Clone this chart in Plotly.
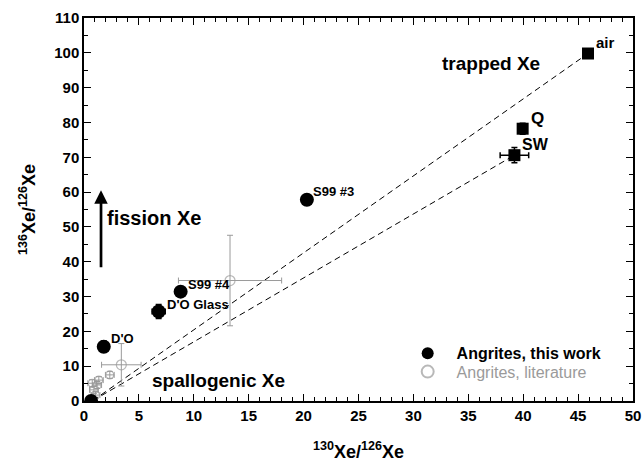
import plotly.graph_objects as go

# Angrites, this work (130Xe/126Xe, 136Xe/126Xe)
tw_names = ["D'O", "D'O Glass", "S99 #4", "S99 #3"]
tw_x = [1.8, 6.8, 8.8, 20.3, 0.65]
tw_y = [15.6, 25.7, 31.4, 57.8, 0.0]
tw_xerr = [0.3, 0.6, 0.3, 0.3, 0.0]
tw_yerr = [1.6, 2.0, 0.8, 0.8, 0.0]

# Angrites, literature
lit_x = [13.3, 3.4, 2.35, 1.35, 0.75, 1.2, 0.9, 1.05]
lit_y = [34.6, 10.4, 7.5, 6.0, 5.1, 4.6, 3.2, 1.7]
lit_xerr = [4.7, 1.8, 0.4, 0.4, 0.4, 0.4, 0.4, 0.4]
lit_yerr = [13.0, 6.1, 1.0, 1.0, 1.0, 1.0, 1.0, 1.0]

# Trapped Xe end-members
trap_names = ["air", "Q", "SW"]
trap_x = [45.9, 39.95, 39.2]
trap_y = [99.8, 78.2, 70.6]
trap_xerr = [0.0, 0.0, 1.3]
trap_yerr = [0.0, 1.6, 2.2]

# Spallogenic starting point of the mixing lines
spall_x = 0.8
spall_y = 0.1

FONT = "Liberation Sans, Arial, Helvetica, sans-serif"
GRAY = "#9a9a9a"
PAD = "\u00a0\u00a0"

fig = go.Figure()

# mixing lines spallogenic -> air and spallogenic -> SW
for ex, ey in [(trap_x[0], trap_y[0]), (trap_x[2], trap_y[2])]:
    fig.add_trace(go.Scatter(
        x=[spall_x, ex], y=[spall_y, ey], mode="lines",
        line=dict(color="black", width=1, dash="6px,4px"),
        showlegend=False, hoverinfo="skip"))

fig.add_trace(go.Scatter(
    x=lit_x, y=lit_y, mode="markers", legend="legend2",
    name=PAD + "<span style='color:#9a9a9a'>Angrites, literature</span>",
    marker=dict(symbol="circle-open", size=[10, 10, 8, 8, 8, 8, 8, 8],
                color=GRAY, line=dict(width=1.2, color=GRAY)),
    error_x=dict(type="data", array=lit_xerr, color=GRAY, thickness=1, width=3),
    error_y=dict(type="data", array=lit_yerr, color=GRAY, thickness=1, width=3)))

fig.add_trace(go.Scatter(
    x=trap_x, y=trap_y, mode="markers", showlegend=False,
    marker=dict(symbol="square", size=12, color="black"),
    error_x=dict(type="data", array=trap_xerr, color="black", thickness=1.5, width=3),
    error_y=dict(type="data", array=trap_yerr, color="black", thickness=1.5, width=3)))

fig.add_trace(go.Scatter(
    x=tw_x, y=tw_y, mode="markers", legend="legend",
    name=PAD + "<b>Angrites, this work</b>",
    marker=dict(symbol="circle", size=14, color="black"),
    error_x=dict(type="data", array=tw_xerr, color="black", thickness=1.5, width=3),
    error_y=dict(type="data", array=tw_yerr, color="black", thickness=1.5, width=3)))


def label(x, y, text, size=13, xshift=0, yshift=0, xanchor="left"):
    fig.add_annotation(x=x, y=y, text=f"<b>{text}</b>", showarrow=False,
                       xanchor=xanchor, yanchor="middle", xshift=xshift, yshift=yshift,
                       font=dict(family=FONT, size=size, color="black"))


label_offsets = [(5, 8), (6, 7), (5, 7), (4, 8)]
for n, x, y, (dx, dy) in zip(tw_names, tw_x, tw_y, label_offsets):
    label(x, y, n, size=13, xshift=dx, yshift=dy)
label(trap_x[0], trap_y[0], "air", size=15, xshift=6, yshift=11)
label(trap_x[1], trap_y[1], "Q", size=17, xshift=6, yshift=10)
label(trap_x[2], trap_y[2], "SW", size=16, xshift=6, yshift=11)

label(32.4, 96.9, "trapped Xe", size=19)
label(6.0, 6.0, "spallogenic Xe", size=19)
label(1.95, 52.6, "fission Xe", size=20)

# fission arrow
fig.add_annotation(x=1.55, y=60.5, ax=1.55, ay=38.0, xref="x", yref="y", axref="x", ayref="y",
                   text="", showarrow=True, arrowhead=2, arrowsize=1.0, arrowwidth=2.7,
                   arrowcolor="black")

# x-axis title placed below the tick labels
fig.add_annotation(x=0.5, y=-0.128, xref="paper", yref="paper", showarrow=False,
                   xanchor="center", yanchor="middle",
                   text="<b><sup>130</sup>Xe/<sup>126</sup>Xe</b>",
                   font=dict(family=FONT, size=18, color="black"))

axis_common = dict(
    showline=True, linecolor="black", linewidth=1.5, mirror="ticks",
    ticks="inside", ticklen=7, tickwidth=1.2, tickcolor="black",
    showgrid=False, zeroline=False, automargin=False,
    tickfont=dict(family=FONT, size=15, color="black", weight="bold"),
)

fig.update_xaxes(range=[0, 50], dtick=5, tick0=0,
                 minor=dict(dtick=1, ticks="inside", ticklen=4, tickwidth=1, tickcolor="black"),
                 **axis_common)
fig.update_yaxes(range=[0, 110], dtick=10, tick0=0,
                 minor=dict(dtick=5, ticks="inside", ticklen=4, tickwidth=1, tickcolor="black"),
                 title=dict(text="<b><sup>136</sup>Xe/<sup>126</sup>Xe</b>",
                            font=dict(family=FONT, size=18, color="black"), standoff=14),
                 **axis_common)

legend_common = dict(xanchor="left", yanchor="middle", bgcolor="rgba(0,0,0,0)",
                     font=dict(family=FONT, size=16), itemsizing="constant")

fig.update_layout(
    width=644, height=461,
    margin=dict(l=84, r=11, t=18, b=60),
    plot_bgcolor="white", paper_bgcolor="white",
    font=dict(family=FONT, size=14, color="black"),
    legend=dict(x=0.5896, y=0.1245, **legend_common),
    legend2=dict(x=0.5896, y=0.0765, **legend_common),
)

fig.write_html("out.html")
